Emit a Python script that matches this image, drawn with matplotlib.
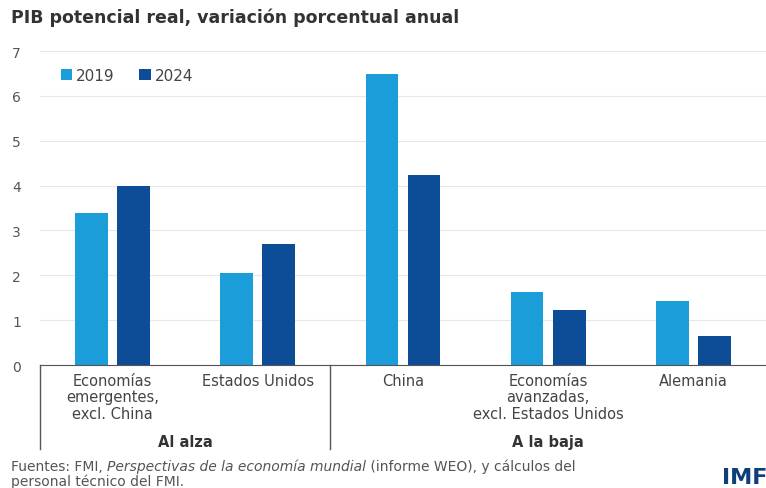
import matplotlib.pyplot as plt
from matplotlib.transforms import blended_transform_factory
import numpy as np

plt.rcParams['font.family'] = ['DejaVu Sans']

categories = ["Economías\nemergentes,\nexcl. China", "Estados Unidos", "China",
              "Economías\navanzadas,\nexcl. Estados Unidos", "Alemania"]
groups = ["Al alza", "A la baja"]
group_spans = [(0, 1), (2, 4)]
v2019 = [3.38, 2.05, 6.5, 1.63, 1.43]
v2024 = [4.0, 2.7, 4.23, 1.22, 0.65]

c19 = '#1b9dd9'
c24 = '#0d4c97'

fig = plt.figure(figsize=(7.66, 4.89), dpi=100)
ax = fig.add_axes([0.052, 0.2515, 0.948, 0.642])

x = np.arange(len(categories))
w = 0.225
ax.bar(x - 0.145, v2019, w, color=c19, label='2019')
ax.bar(x + 0.145, v2024, w, color=c24, label='2024')

ax.set_xlim(-0.5, 4.5)
ax.set_ylim(0, 7)
ax.set_yticks(range(8))
ax.grid(axis='y', color='#e8e8e8', linewidth=0.8)
ax.set_axisbelow(True)
for s in ['top', 'right', 'left']:
    ax.spines[s].set_visible(False)
ax.spines['bottom'].set_color('#555555')
ax.tick_params(axis='y', length=0, labelcolor='#555555', labelsize=10)
ax.tick_params(axis='x', length=0, labelbottom=False)
for lbl in ax.get_yticklabels():
    lbl.set_horizontalalignment('left')
ax.yaxis.set_tick_params(pad=20)

tr = blended_transform_factory(ax.transData, ax.transAxes)
for i, c in enumerate(categories):
    ax.text(i, -0.025, c, transform=tr, ha='center', va='top', fontsize=10.5,
            color='#444444', linespacing=1.12)

for xs in [-0.5, 1.5]:
    ax.plot([xs, xs], [0, -0.268], transform=tr, color='#555555', lw=1, clip_on=False)
for g, (a, b) in zip(groups, group_spans):
    ax.text((a + b) / 2, -0.245, g, transform=tr, ha='center', va='center',
            fontsize=10.5, fontweight='bold', color='#333333')

ax.legend(loc='upper left', bbox_to_anchor=(0.01, 0.99), ncol=2, frameon=False,
          handlelength=0.75, handleheight=0.75, handletextpad=0.25, columnspacing=1.6,
          fontsize=11, labelcolor='#444444')

fig.text(0.014, 0.963, "PIB potencial real, variación porcentual anual", fontsize=12.5,
         fontweight='bold', color='#333333', va='center')
src = ax.annotate("Fuentes: FMI, ", xy=(0.014, 0.045), xycoords='figure fraction',
                  fontsize=10, color='#555555', va='center')
src2 = ax.annotate("Perspectivas de la economía mundial", xycoords=src, xy=(1, 0.5),
                   va='center', fontsize=10, color='#555555', style='italic')
ax.annotate(" (informe WEO), y cálculos del", xycoords=src2, xy=(1, 0.5), va='center',
            fontsize=10, color='#555555')
fig.text(0.014, 0.015, "personal técnico del FMI.", fontsize=10, color='#555555', va='center')
fig.text(0.942, 0.003, "IMF", fontsize=16, fontweight='bold', color='#0d3f7a',
         va='bottom', ha='left')

fig.savefig('out.png', dpi=100)
